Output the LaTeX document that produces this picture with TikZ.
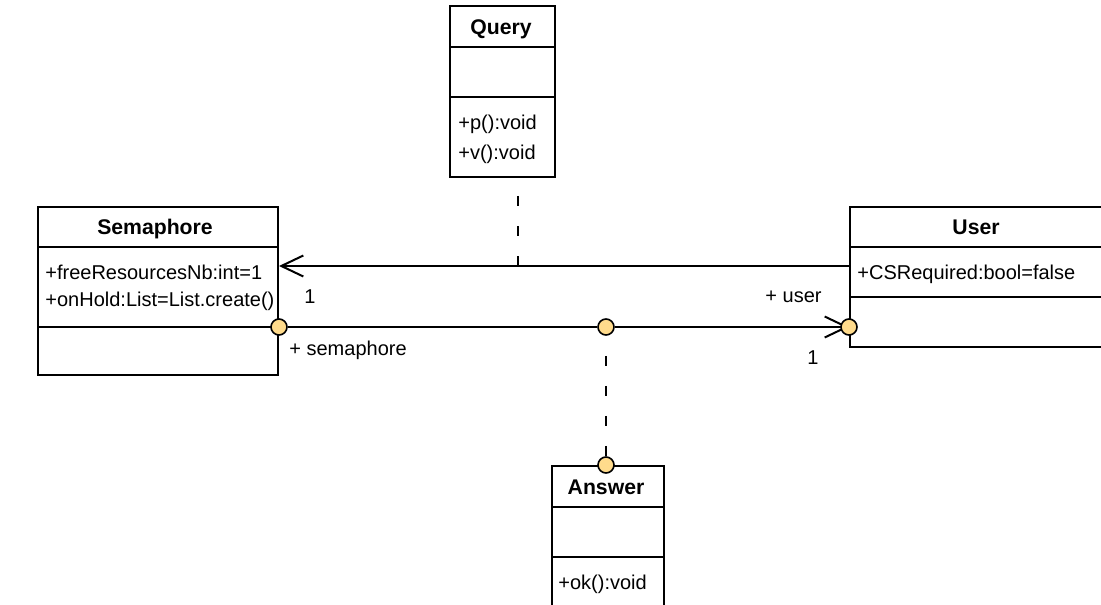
\documentclass[tikz,border=0pt]{standalone}
\usepackage{fontspec}
\setmainfont{Liberation Sans}
\usetikzlibrary{arrows.meta,backgrounds}
\definecolor{portfill}{HTML}{FFDB8C}
\tikzset{
  classbox/.style={draw, line width=1pt, inner sep=0pt},
  classname/.style={font=\fontsize{10.6}{12}\selectfont\bfseries, inner sep=0pt, text height=1.4ex, text depth=0pt},
  member/.style={anchor=west, inner sep=0pt, text height=1.4ex, text depth=0pt},
  role/.style={inner sep=0pt, text height=1.4ex, text depth=0pt},
  port/.style={circle, draw, line width=0.8pt, fill=portfill, inner sep=0pt, minimum size=8pt},
  assoc/.style={line width=1pt},
  navarrow/.style={line width=1pt, -{Straight Barb[length=11pt,width=10.5pt]}},
  anchorline/.style={line width=1pt, dash pattern=on 5pt off 10pt}
}
\begin{document}
\begin{tikzpicture}[x=0.5pt, y=-0.5pt, font=\fontsize{10}{12}\selectfont]
    \useasboundingbox (0,0) rectangle (1101,604);

    % Classes: outer box, then the two compartment lines
    \node[classbox, minimum width=52.5pt, minimum height=85.5pt] (query) at (502.5,91.5) {};
    \node[classbox, minimum width=120pt, minimum height=84pt] (sem) at (158,291) {};
    \node[classbox, minimum width=126.5pt, minimum height=70pt] (user) at (976.5,277) {};
    \node[classbox, minimum width=56pt, minimum height=87pt] (ans) at (608,553) {};

    \foreach \c/\ya/\yb in {query/47/97, sem/247/327, user/247/297, ans/507/557} {
        \draw[classbox] (\c.west |- 0,\ya) -- (\c.east |- 0,\ya);
        \draw[classbox] (\c.west |- 0,\yb) -- (\c.east |- 0,\yb);
    }

    % Class names
    \node[classname] (queryname) at (501,27) {Query};
    \node[classname] (semname) at (155,227) {Semaphore};
    \node[classname] (username) at (976,227) {User};
    \node[classname] (ansname) at (606,487) {Answer};

    % Attributes and operations
    \node[member] (queryop1) at (458,122) {+p():void};
    \node[member] (queryop2) at (458,152) {+v():void};
    \node[member] (semattr1) at (45,272) {+freeResourcesNb:int=1};
    \node[member] (semattr2) at (45,299) {+onHold:List=List.create()};
    \node[member] (userattr1) at (857,272) {+CSRequired:bool=false};
    \node[member] (ansop1) at (558,582) {+ok():void};

    % Association ends
    \node[port] (semport) at (sem.east |- 0,327) {};
    \node[port] (midport) at (606,327) {};
    \node[port] (userport) at (user.west |- 0,327) {};
    \node[port] (ansport) at (ans.north -| midport) {};
    \coordinate (qfoot) at (518,266);

    % Connectors (behind the ports)
    \begin{scope}[on background layer]
        \draw[navarrow] (user.west |- qfoot) -- (sem.east |- qfoot);
        \draw[anchorline, dash phase=6pt] (query.south -| qfoot) -- (qfoot);
        \draw[assoc] (semport) -- (midport);
        \draw[navarrow] (midport) -- (userport.center);
        \draw[anchorline, dash phase=5pt] (midport) -- (ansport);
    \end{scope}

    % Roles and multiplicities
    \node[role] (semmult) at (310,296) {1};
    \node[role, anchor=west] (semrole) at (289,348) {+ semaphore};
    \node[role, anchor=east] (userrole) at (822,295) {+ user};
    \node[role] (usermult) at (813,357) {1};
\end{tikzpicture}
\end{document}
